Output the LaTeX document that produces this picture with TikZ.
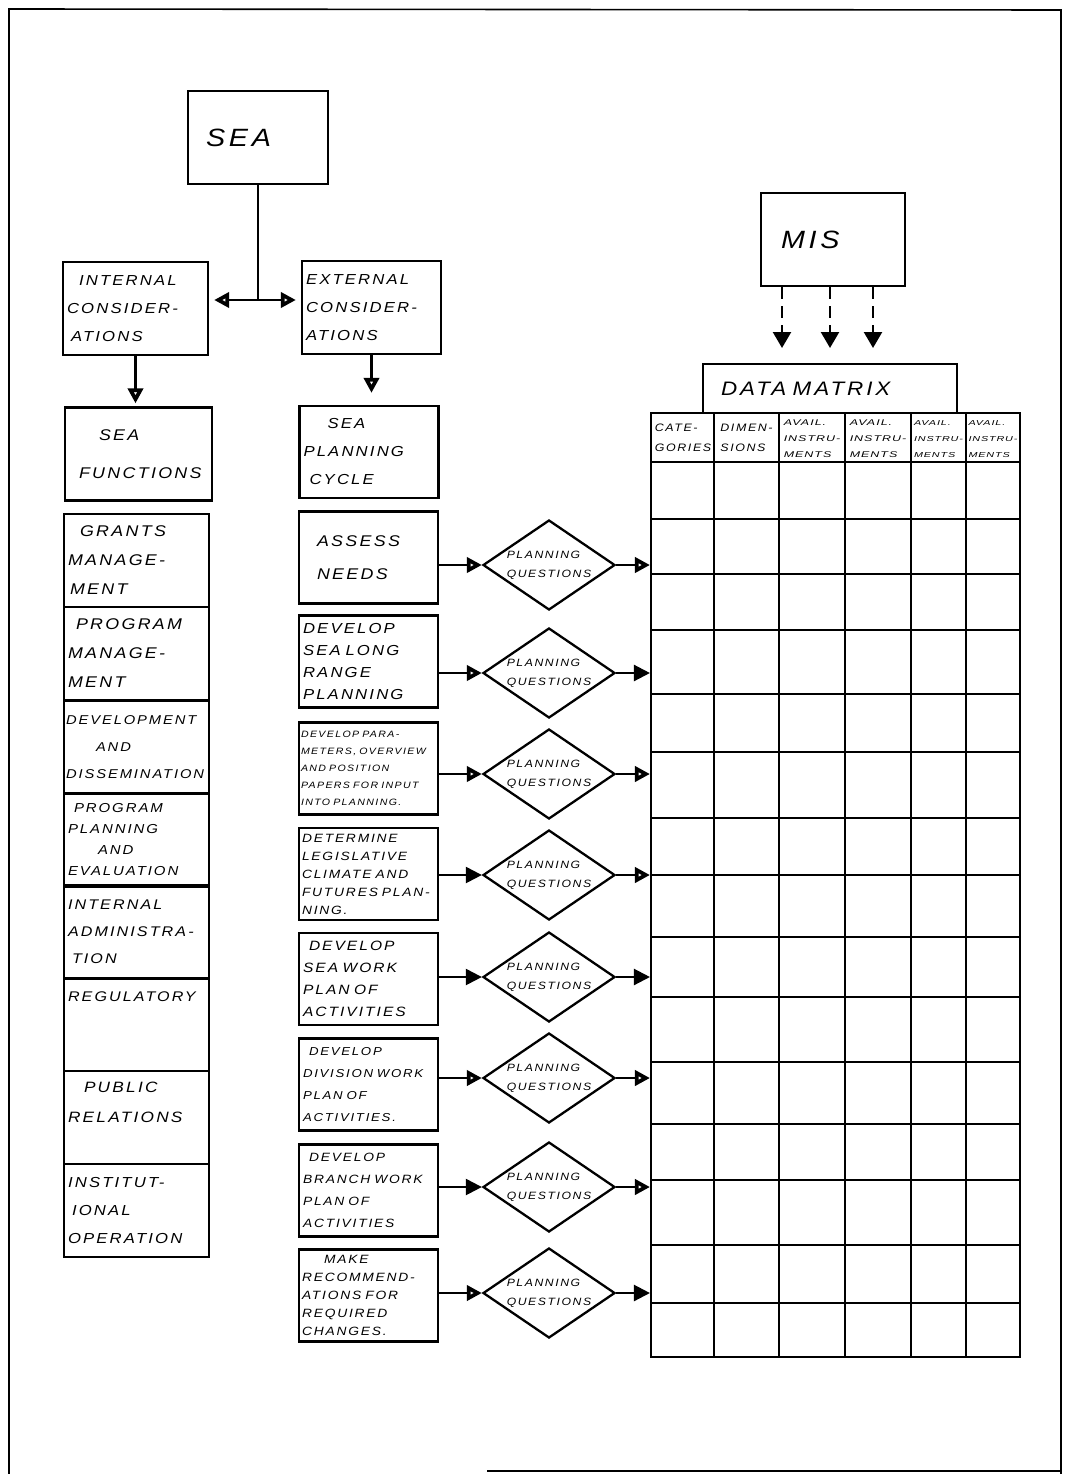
\documentclass[tikz,border=0pt]{standalone}
\usepackage{fontspec}
\setmainfont{Liberation Sans}
\newfontfamily\hand{Liberation Sans}[FakeStretch=1.15,LetterSpace=15]
\newfontfamily\handw{Liberation Sans}[FakeStretch=1.5,LetterSpace=12]
\usetikzlibrary{arrows.meta,shapes.geometric}
\newcommand\hf[2]{\hand\itshape\fontsize{#1}{#2}\selectfont}
\newcommand\hw[2]{\handw\itshape\fontsize{#1}{#2}\selectfont}
\tikzset{
  bx/.style={draw, line width=2.3pt, align=left, inner sep=4pt, font=\hf{14.5}{28}},
  lcol/.style={bx, text width=137pt, minimum height=93pt},
  mcol/.style={bx, text width=131pt, minimum height=92pt},
  dmd/.style={draw, line width=2.3pt, diamond, minimum width=132pt, minimum height=90pt, inner xsep=-30pt, inner ysep=-13pt, align=left, font=\hf{10.6}{19}},
  ln/.style={line width=2.3pt},
  tf/.style={ln, -{Triangle[length=16pt,width=16pt]}},
  to/.style={ln, -{Triangle[open,length=15pt,width=15pt,line width=3.8pt]}},
  gridln/.style={line width=2.1pt},
  hd/.style={align=left, inner sep=0pt},
  dsh/.style={line width=2.3pt, dash pattern=on 12pt off 7pt, -{Triangle[length=16pt,width=18pt]}},
}
\begin{document}
\begin{tikzpicture}[x=1pt,y=-1pt]
\fill[white] (0,0) rectangle (1075,1474);
\useasboundingbox (0,0) rectangle (1075,1474);
% page frame
\draw[line width=1.6pt] (9,1474) -- (9,9) -- (1061,10) -- (1061,1474);
\draw[line width=2pt] (487,1471) -- (1061,1471);

% top boxes
\node[bx, text width=132pt, minimum height=93pt, font=\hf{25}{28}] (sea) at (258,137.5) {\hspace*{14pt}SEA};
\node[lcol, minimum height=93pt] (int) at (135.5,308.5) {\hspace*{12pt}INTERNAL\\CONSIDER-\\\hspace*{4pt}ATIONS};
\node[mcol, minimum height=93pt] (ext) at (371.5,307.5) {EXTERNAL\\CONSIDER-\\ATIONS};
\node[lcol, text width=139pt, font=\hf{15.5}{38}] (fun) at (138.5,454) {\hspace*{30pt}SEA\\\hspace*{10pt}FUNCTIONS};
\node[mcol] (plc) at (369,452) {\hspace*{24pt}SEA\\PLANNING\\\hspace*{6pt}CYCLE};

\coordinate (jn) at (258,300);
\draw[ln] (sea.south) -- (jn);
\draw[ln, {Triangle[open,length=15pt,width=15pt,line width=3.8pt]}-{Triangle[open,length=15pt,width=15pt,line width=3.8pt]}, shorten <=5pt, shorten >=5pt] (int.east |- jn) -- (ext.west |- jn);
\draw[to, shorten >=3pt] (int.south) -- (int.south |- fun.north);
\draw[to, shorten >=12pt] (ext.south) -- (ext.south |- plc.north);

% left column: SEA functions
\node[lcol, font=\hf{15.5}{29}] (l1) at (136.5,560.5) {\hspace*{12pt}GRANTS\\MANAGE-\\\hspace*{2pt}MENT};
\node[lcol, font=\hf{15.5}{29}] (l2) at (136.5,653.5) {\hspace*{8pt}PROGRAM\\MANAGE-\\MENT};
\node[lcol, inner sep=2pt, text width=141pt, font=\hf{12.8}{27}] (l3) at (136.5,747) {DEVELOPMENT\\\hspace*{30pt}AND\\DISSEMINATION};
\node[lcol, font=\hf{13}{21}] (l4) at (136.5,840) {\hspace*{6pt}PROGRAM\\PLANNING\\\hspace*{30pt}AND\\EVALUATION};
\node[lcol, font=\hf{14}{27}] (l5) at (136.5,932) {INTERNAL\\ADMINISTRA-\\\hspace*{4pt}TION};
\node[lcol, font=\hf{14}{28}] (l6) at (136.5,1024.5) {REGULATORY\\\mbox{}\\\mbox{}};
\node[lcol, font=\hf{15}{30}] (l7) at (136.5,1117.5) {\hspace*{16pt}PUBLIC\\RELATIONS\\\mbox{}};
\node[lcol, font=\hf{14.5}{28}] (l8) at (136.5,1210.5) {INSTITUT-\\\hspace*{4pt}IONAL\\OPERATION};

% middle column: planning cycle steps
\node[mcol, font=\hf{15.5}{33}] (b1) at (368.5,557.5) {\hspace*{14pt}ASSESS\\\hspace*{14pt}NEEDS};
\node[mcol, font=\hf{14.5}{22}] (b2) at (368.5,661.5) {DEVELOP\\SEA LONG\\RANGE\\PLANNING};
\node[mcol, inner sep=2pt, text width=135pt, font=\hf{9.2}{17}] (b3) at (368.5,768.5) {DEVELOP PARA-\\METERS, OVERVIEW\\AND POSITION\\PAPERS FOR INPUT\\INTO PLANNING.};
\node[mcol, inner sep=3pt, text width=133pt, font=\hf{12}{18}] (b4) at (368.5,874) {DETERMINE\\LEGISLATIVE\\CLIMATE AND\\FUTURES PLAN-\\NING.};
\node[mcol, font=\hf{13.5}{22}] (b5) at (368.5,979) {\hspace*{6pt}DEVELOP\\SEA WORK\\PLAN OF\\ACTIVITIES};
\node[mcol, font=\hf{11.5}{22}] (b6) at (368.5,1084.5) {\hspace*{6pt}DEVELOP\\DIVISION WORK\\PLAN OF\\ACTIVITIES.};
\node[mcol, font=\hf{12}{22}] (b7) at (368.5,1190.5) {\hspace*{6pt}DEVELOP\\BRANCH WORK\\PLAN OF\\ACTIVITIES};
\node[mcol, inner sep=3pt, text width=133pt, font=\hf{12}{18}] (b8) at (368.5,1295.5) {\hspace*{22pt}MAKE\\RECOMMEND-\\ATIONS FOR\\REQUIRED\\CHANGES.};

% MIS and data matrix
\node[bx, text width=136pt, minimum height=93pt, font=\hf{25}{28}] (mis) at (833,239.5) {\hspace*{16pt}MIS};
\node[bx, text width=246pt, minimum height=49pt, font=\hf{19.5}{22}] (dm) at (830,388.5) {\hspace*{14pt}DATA MATRIX};
\node[draw, gridln, minimum width=369pt, minimum height=944pt, inner sep=0pt] (mat) at (835.5,885) {};
\foreach \yy in {462,519,574,630,694,752,818,875,937,997,1062,1124,1180,1245,1303}
  \draw[gridln] (651,\yy) -- (1020,\yy);
\foreach \xx in {714,779,845,911,966}
  \draw[gridln] (\xx,413) -- (\xx,1357);

\node[hd, font=\hf{10.8}{20}] (h1) at (683,437.5) {CATE-\\GORIES};
\node[hd, font=\hf{10.8}{20}] (h2) at (746.5,437.5) {DIMEN-\\SIONS};
\node[hd, font=\hw{8.3}{16}] (h3) at (812,439) {AVAIL.\\INSTRU-\\MENTS};
\node[hd, font=\hw{8.3}{16}] (h4) at (878,439) {AVAIL.\\INSTRU-\\MENTS};
\node[hd, font=\hw{7.2}{16}] (h5) at (938.5,439) {AVAIL.\\INSTRU-\\MENTS};
\node[hd, font=\hw{7.2}{16}] (h6) at (993,439) {AVAIL.\\INSTRU-\\MENTS};

\coordinate (m1) at (782,348);
\coordinate (m2) at (830,348);
\coordinate (m3) at (873,348);
\foreach \m in {m1,m2,m3}
  \draw[dsh] (mis.south -| \m) -- (\m);

% planning questions diamonds and connectors
\foreach \i/\yy/\ta/\tb in {1/565/to/to, 2/673/to/tf, 3/774/to/to, 4/875/tf/to, 5/977/tf/tf, 6/1078/to/to, 7/1187/tf/to, 8/1293/to/tf} {
  \node[dmd] (d\i) at (549,\yy) {PLANNING\\QUESTIONS};
  \draw[\ta] (d\i.west -| b\i.east) -- (d\i.west);
  \draw[\tb] (d\i.east) -- (d\i.east -| mat.west);
}
\end{tikzpicture}
\end{document}
